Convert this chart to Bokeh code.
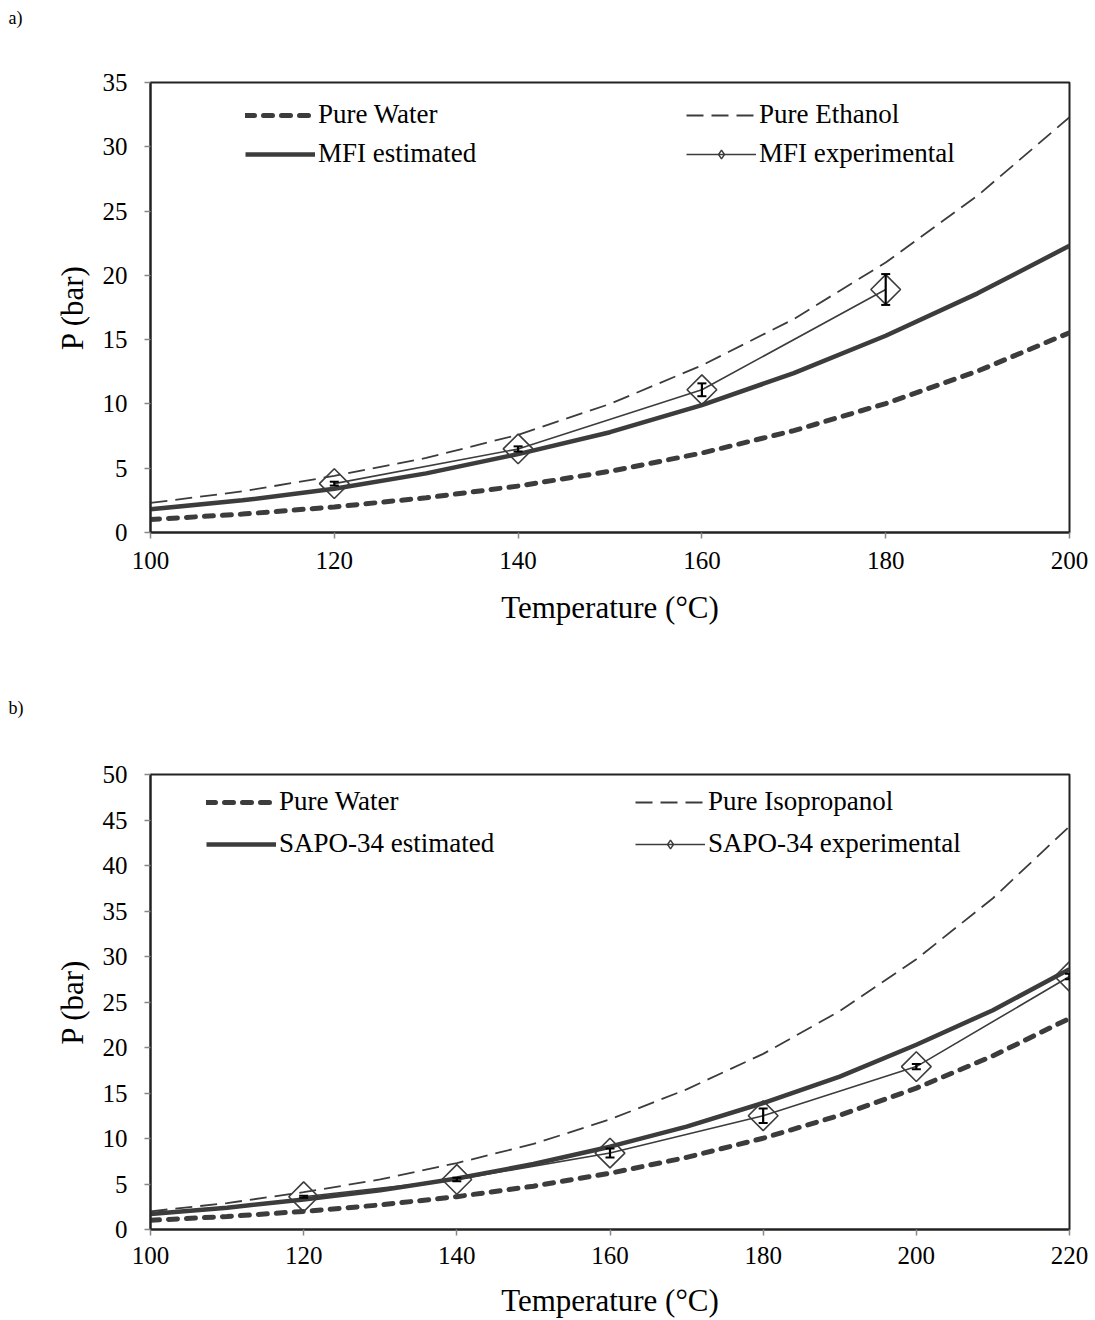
import numpy as np
from bokeh.plotting import figure
from bokeh.layouts import column
from bokeh.models import (Range1d, FixedTicker, Legend, LegendItem,
                          Whisker, TeeHead, ColumnDataSource)
from bokeh.embed import file_html
from bokeh.resources import INLINE

# ---------------- data ----------------
panel_tags = ["a)", "b)"]

T_a = [100, 110, 120, 130, 140, 150, 160, 170, 180, 190, 200]
water_a = [1.01, 1.43, 1.99, 2.70, 3.61, 4.76, 6.18, 7.92, 10.03, 12.55, 15.54]
ethanol_a = [2.3, 3.2, 4.4, 5.8, 7.6, 10.0, 13.0, 16.6, 21.0, 26.2, 32.3]
mfi_est = [1.8, 2.5, 3.4, 4.6, 6.1, 7.8, 9.9, 12.4, 15.3, 18.6, 22.3]
mfi_T = [120, 140, 160, 180]
mfi_exp = [3.8, 6.5, 11.1, 18.9]
mfi_err = [0.15, 0.2, 0.5, 1.2]

T_b = [100, 110, 120, 130, 140, 150, 160, 170, 180, 190, 200, 210, 220]
water_b = [1.01, 1.43, 1.99, 2.70, 3.61, 4.76, 6.18, 7.92, 10.03, 12.55, 15.54, 19.08, 23.2]
iso_b = [2.0, 2.9, 4.1, 5.5, 7.3, 9.4, 12.1, 15.4, 19.3, 24.0, 29.7, 36.4, 44.3]
sapo_est = [1.7, 2.4, 3.3, 4.3, 5.6, 7.2, 9.1, 11.3, 13.9, 16.8, 20.3, 24.1, 28.6]
sapo_T = [120, 140, 160, 180, 200, 220]
sapo_exp = [3.6, 5.5, 8.4, 12.5, 17.9, 27.8]
sapo_err = [0.1, 0.2, 0.5, 0.8, 0.3, 0.3]

a_xticks = [100, 120, 140, 160, 180, 200]
a_yticks = [0, 5, 10, 15, 20, 25, 30, 35]
b_xticks = [100, 120, 140, 160, 180, 200, 220]
b_yticks = [0, 5, 10, 15, 20, 25, 30, 35, 40, 45, 50]

SERIF = "Liberation Serif"
LINE = "#3c3c3c"


def header(tag, height):
    h = figure(width=1095, height=height, output_backend="svg",
               toolbar_location=None, x_range=Range1d(0, 1), y_range=Range1d(0, 1),
               min_border=0, title=tag)
    h.axis.visible = False
    h.xgrid.visible = False
    h.ygrid.visible = False
    h.outline_line_color = None
    h.title.align = "left"
    h.title.offset = -142
    h.title.text_font = SERIF
    h.title.text_font_size = "18px"
    h.title.text_font_style = "normal"
    h.title.text_color = "black"
    return h


def make_panel(T, water, solvent, est, eT, eV, eE, xr, yr, xt, yt,
               names, height, btop, bbot, leg1_xy, leg2_x, leg_spacing,
               x_std, x_lab_std):
    p = figure(width=1095, height=height, output_backend="svg",
               toolbar_location=None, x_range=Range1d(*xr), y_range=Range1d(*yr),
               min_border_left=150, min_border_right=26,
               min_border_top=btop, min_border_bottom=bbot)
    p.background_fill_color = "white"
    p.border_fill_color = "white"
    p.outline_line_color = "#222222"
    p.outline_line_width = 2
    p.xgrid.visible = False
    p.ygrid.visible = False
    for ax, ticks in ((p.xaxis, xt), (p.yaxis, yt)):
        ax.ticker = FixedTicker(ticks=ticks)
        ax.axis_line_color = "#222222"
        ax.axis_line_width = 2
        ax.major_tick_line_color = "#888888"
        ax.major_tick_line_width = 1.5
        ax.major_tick_out = 6
        ax.major_tick_in = 0
        ax.minor_tick_line_color = None
        ax.major_label_text_font = SERIF
        ax.major_label_text_font_size = "25px"
        ax.major_label_text_color = "black"
        ax.axis_label_text_font = SERIF
        ax.axis_label_text_font_size = "31px"
        ax.axis_label_text_font_style = "normal"
        ax.axis_label_text_color = "black"
    p.xaxis.axis_label = "Temperature (°C)"
    p.yaxis.axis_label = "P (bar)"
    p.xaxis.major_label_standoff = x_std
    p.yaxis.major_label_standoff = 17
    p.xaxis.axis_label_standoff = x_lab_std
    p.yaxis.axis_label_standoff = 10

    r_water = p.line(T, water, line_color=LINE, line_width=5,
                     line_dash="9 9", line_cap="round")
    r_solv = p.line(T, solvent, line_color=LINE, line_width=1.8,
                    line_dash="17 8")
    r_est = p.line(T, est, line_color=LINE, line_width=4.5)
    r_expl = p.line(eT, eV, line_color=LINE, line_width=1.6)
    src = ColumnDataSource(dict(x=eT, y=eV,
                                lo=[v - e for v, e in zip(eV, eE)],
                                hi=[v + e for v, e in zip(eV, eE)]))
    p.scatter("x", "y", source=src, marker="square", angle=np.pi / 4,
              size=21, fill_alpha=0, line_color=LINE, line_width=1.6)
    # legend-only diamond: one point placed outside the visible range
    r_legm = p.scatter(x=[eT[0]], y=[yr[0] - 1000], marker="diamond", size=16,
                       fill_alpha=0, line_color=LINE, line_width=1.4)
    wh = Whisker(source=src, base="x", lower="lo", upper="hi",
                 line_color="black", line_width=2.2,
                 lower_head=TeeHead(size=9, line_color="black", line_width=2),
                 upper_head=TeeHead(size=9, line_color="black", line_width=2))
    wh.level = "overlay"
    p.add_layout(wh)

    common = dict(border_line_color=None, background_fill_alpha=0,
                  padding=0, margin=0, spacing=leg_spacing, glyph_width=70,
                  glyph_height=22, label_standoff=3, label_height=22,
                  label_text_font=SERIF, label_text_font_size="27px",
                  label_text_color="black", label_text_baseline="middle")
    leg1 = Legend(items=[LegendItem(label=names[0], renderers=[r_water]),
                         LegendItem(label=names[2], renderers=[r_est])],
                  location=leg1_xy, **common)
    leg2 = Legend(items=[LegendItem(label=names[1], renderers=[r_solv]),
                         LegendItem(label=names[3], renderers=[r_expl, r_legm])],
                  location=(leg2_x, leg1_xy[1]), **common)
    p.add_layout(leg1)
    p.add_layout(leg2)
    return p


ha = header(panel_tags[0], 40)
pa = make_panel(T_a, water_a, ethanol_a, mfi_est, mfi_T, mfi_exp, mfi_err,
                (100, 200), (0, 35), a_xticks, a_yticks,
                ["Pure Water", "Pure Ethanol", "MFI estimated", "MFI experimental"],
                650, 42, 158, (95, 363), 536, 8, 13, 18)
hb = header(panel_tags[1], 45)
pb = make_panel(T_b, water_b, iso_b, sapo_est, sapo_T, sapo_exp, sapo_err,
                (100, 220), (0, 50), b_xticks, b_yticks,
                ["Pure Water", "Pure Isopropanol", "SAPO-34 estimated",
                 "SAPO-34 experimental"],
                585, 39, 88, (56, 370), 485, 11, 11, 16)

layout = column(ha, pa, hb, pb, spacing=0)
open("out.html", "w").write(file_html(layout, INLINE))
